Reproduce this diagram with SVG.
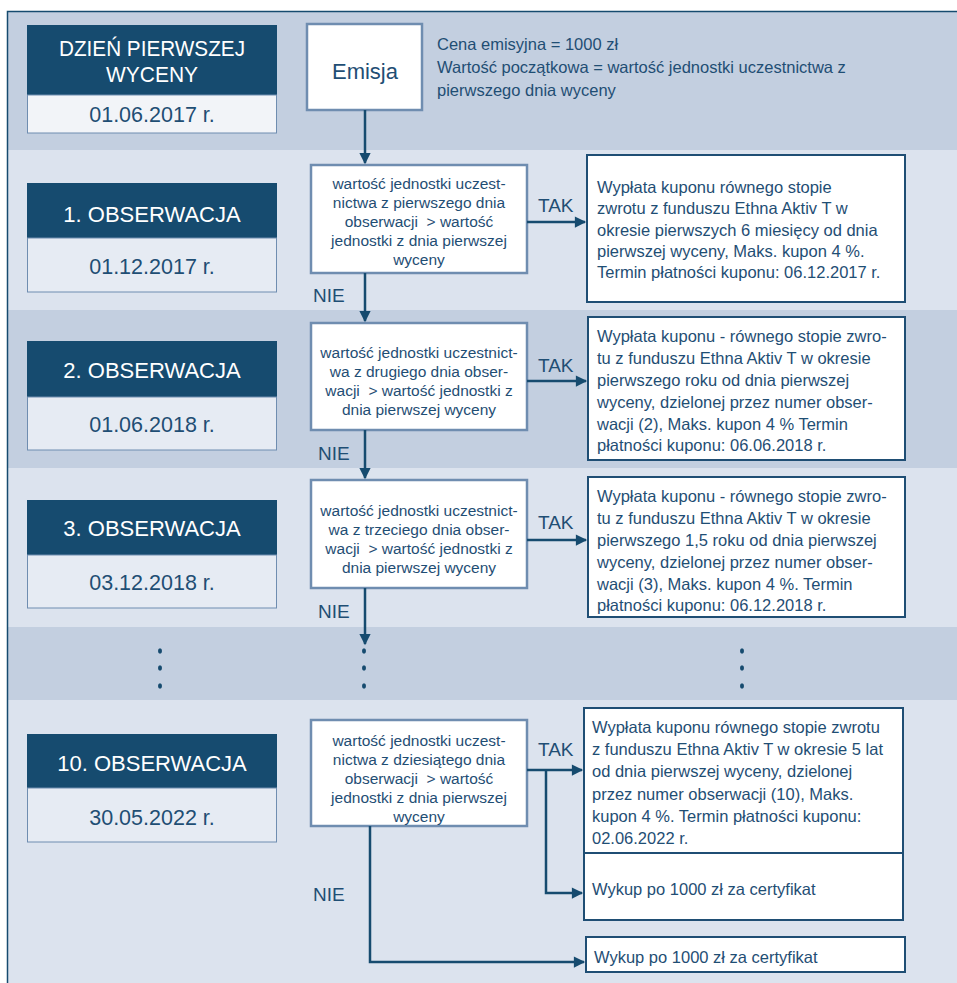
<svg xmlns="http://www.w3.org/2000/svg" width="957" height="983" viewBox="0 0 957 983">
<style>
text{font-family:"Liberation Sans","DejaVu Sans",sans-serif;fill:#1f4e74}
.hd{fill:#ffffff;font-size:22px;text-anchor:middle}
.dt{font-size:21.5px;text-anchor:middle}
.cn{font-size:15.5px;text-anchor:middle}
.rs{font-size:16.5px}
.lb{font-size:19px}
.dark{fill:#164b6f}
.band1{fill:#c3cfe0}
.band2{fill:#dce3ee}
.cond{fill:#ffffff;stroke:#6f8db0;stroke-width:2.5}
.res{fill:#ffffff;stroke:#1f4e74;stroke-width:2}
.con{fill:none;stroke:#164b6f;stroke-width:2.5}
.dot{fill:#164b6f}
</style>
<defs>
<marker id="ah" viewBox="0 0 10 10" refX="9" refY="5" markerWidth="5" markerHeight="4.5" orient="auto" markerUnits="strokeWidth">
<path d="M0,0 L10,5 L0,10 z" fill="#164b6f"/>
</marker>
</defs>
<rect x="0" y="0" width="957" height="983" fill="#ffffff"/>
<g id="bands">
<rect class="band1" x="8" y="12" width="949" height="138"/>
<rect class="band2" x="8" y="150" width="949" height="160"/>
<rect class="band1" x="8" y="310" width="949" height="158"/>
<rect class="band2" x="8" y="468" width="949" height="159"/>
<rect class="band1" x="8" y="627" width="949" height="73"/>
<rect class="band2" x="8" y="700" width="949" height="283"/>
<path d="M7.5,983 V11.5 H957" fill="none" stroke="#164b6f" stroke-width="1.5"/>
</g>
<g id="h0">
<rect class="dark" x="27" y="25" width="250" height="70"/>
<rect x="27.5" y="95" width="249" height="38" fill="#f2f4f8" stroke="#6f8db0" stroke-width="1"/>
<text class="hd" x="152" y="56" textLength="186" lengthAdjust="spacingAndGlyphs">DZIEŃ PIERWSZEJ</text>
<text class="hd" x="152" y="82" textLength="92" lengthAdjust="spacingAndGlyphs">WYCENY</text>
<text class="dt" x="152" y="122">01.06.2017 r.</text>
</g>
<g id="emisja">
<rect class="cond" x="307" y="24" width="115" height="86"/>
<text x="365" y="79" style="font-size:22px;text-anchor:middle">Emisja</text>
</g>
<g id="info">
<text class="rs" x="437" y="50">Cena emisyjna = 1000 zł</text>
<text class="rs" x="437" y="73">Wartość początkowa = wartość jednostki uczestnictwa z</text>
<text class="rs" x="437" y="96">pierwszego dnia wyceny</text>
</g>
<g id="h1">
<rect class="dark" x="27" y="183" width="250" height="55"/>
<rect x="27.5" y="238" width="249" height="54" fill="#e6ebf3" stroke="#6f8db0" stroke-width="1"/>
<text class="hd" x="152" y="222">1. OBSERWACJA</text>
<text class="dt" x="152" y="274">01.12.2017 r.</text>
</g>
<g id="c1">
<rect class="cond" x="311" y="165" width="216" height="108"/>
<text class="cn" x="419" y="189">wartość jednostki uczest-</text>
<text class="cn" x="419" y="208">nictwa z pierwszego dnia</text>
<text class="cn" x="419" y="227">obserwacji&#160; &gt; wartość</text>
<text class="cn" x="419" y="246">jednostki z dnia pierwszej</text>
<text class="cn" x="419" y="265">wyceny</text>
</g>
<g id="r1">
<rect class="res" x="587" y="155" width="318" height="147"/>
<text class="rs" x="597" y="193">Wypłata kuponu równego stopie</text>
<text class="rs" x="597" y="214">zwrotu z funduszu Ethna Aktiv T w</text>
<text class="rs" x="597" y="236">okresie pierwszych 6 miesięcy od dnia</text>
<text class="rs" x="597" y="257">pierwszej wyceny, Maks. kupon 4 %.</text>
<text class="rs" x="597" y="278">Termin płatności kuponu: 06.12.2017 r.</text>
</g>
<g id="h2">
<rect class="dark" x="27" y="341" width="250" height="56"/>
<rect x="27.5" y="397" width="249" height="53" fill="#e6ebf3" stroke="#6f8db0" stroke-width="1"/>
<text class="hd" x="152" y="378">2. OBSERWACJA</text>
<text class="dt" x="152" y="432">01.06.2018 r.</text>
</g>
<g id="c2">
<rect class="cond" x="311" y="323" width="216" height="107"/>
<text class="cn" x="419" y="358">wartość jednostki uczestnict-</text>
<text class="cn" x="419" y="377">wa z drugiego dnia obser-</text>
<text class="cn" x="419" y="396">wacji&#160; &gt; wartość jednostki z</text>
<text class="cn" x="419" y="415">dnia pierwszej wyceny</text>
</g>
<g id="r2">
<rect class="res" x="588" y="317" width="317" height="143"/>
<text class="rs" x="597" y="342">Wypłata kuponu - równego stopie zwro-</text>
<text class="rs" x="597" y="364">tu z funduszu Ethna Aktiv T w okresie</text>
<text class="rs" x="597" y="386">pierwszego roku od dnia pierwszej</text>
<text class="rs" x="597" y="408">wyceny, dzielonej przez numer obser-</text>
<text class="rs" x="597" y="430">wacji (2), Maks. kupon 4 % Termin</text>
<text class="rs" x="597" y="451">płatności kuponu: 06.06.2018 r.</text>
</g>
<g id="h3">
<rect class="dark" x="27" y="500" width="250" height="55"/>
<rect x="27.5" y="555" width="249" height="53" fill="#e6ebf3" stroke="#6f8db0" stroke-width="1"/>
<text class="hd" x="152" y="536">3. OBSERWACJA</text>
<text class="dt" x="152" y="590">03.12.2018 r.</text>
</g>
<g id="c3">
<rect class="cond" x="311" y="480" width="216" height="108"/>
<text class="cn" x="419" y="516">wartość jednostki uczestnict-</text>
<text class="cn" x="419" y="535">wa z trzeciego dnia obser-</text>
<text class="cn" x="419" y="554">wacji&#160; &gt; wartość jednostki z</text>
<text class="cn" x="419" y="573">dnia pierwszej wyceny</text>
</g>
<g id="r3">
<rect class="res" x="588" y="477" width="317" height="140"/>
<text class="rs" x="597" y="502">Wypłata kuponu - równego stopie zwro-</text>
<text class="rs" x="597" y="524">tu z funduszu Ethna Aktiv T w okresie</text>
<text class="rs" x="597" y="546">pierwszego 1,5 roku od dnia pierwszej</text>
<text class="rs" x="597" y="568">wyceny, dzielonej przez numer obser-</text>
<text class="rs" x="597" y="590">wacji (3), Maks. kupon 4 %. Termin</text>
<text class="rs" x="597" y="611">płatności kuponu: 06.12.2018 r.</text>
</g>
<g id="dots">
<ellipse class="dot" cx="160" cy="651" rx="2" ry="2.7"/>
<ellipse class="dot" cx="160" cy="668" rx="2" ry="2.7"/>
<ellipse class="dot" cx="160" cy="686" rx="2" ry="2.7"/>
<ellipse class="dot" cx="364" cy="651" rx="2" ry="2.7"/>
<ellipse class="dot" cx="364" cy="668" rx="2" ry="2.7"/>
<ellipse class="dot" cx="364" cy="686" rx="2" ry="2.7"/>
<ellipse class="dot" cx="742" cy="651" rx="2" ry="2.7"/>
<ellipse class="dot" cx="742" cy="668" rx="2" ry="2.7"/>
<ellipse class="dot" cx="742" cy="686" rx="2" ry="2.7"/>
</g>
<g id="h10">
<rect class="dark" x="27" y="734" width="250" height="54"/>
<rect x="27.5" y="788" width="249" height="54" fill="#e6ebf3" stroke="#6f8db0" stroke-width="1"/>
<text class="hd" x="152" y="771">10. OBSERWACJA</text>
<text class="dt" x="152" y="825">30.05.2022 r.</text>
</g>
<g id="c10">
<rect class="cond" x="311" y="720" width="216" height="106"/>
<text class="cn" x="419" y="746">wartość jednostki uczest-</text>
<text class="cn" x="419" y="765">nictwa z dziesiątego dnia</text>
<text class="cn" x="419" y="784">obserwacji&#160; &gt; wartość</text>
<text class="cn" x="419" y="803">jednostki z dnia pierwszej</text>
<text class="cn" x="419" y="822">wyceny</text>
</g>
<g id="r10">
<rect class="res" x="584" y="708" width="319" height="145"/>
<text class="rs" x="592" y="733">Wypłata kuponu równego stopie zwrotu</text>
<text class="rs" x="592" y="755">z funduszu Ethna Aktiv T w okresie 5 lat</text>
<text class="rs" x="592" y="777">od dnia pierwszej wyceny, dzielonej</text>
<text class="rs" x="592" y="800">przez numer obserwacji (10), Maks.</text>
<text class="rs" x="592" y="822">kupon 4 %. Termin płatności kuponu:</text>
<text class="rs" x="592" y="844">02.06.2022 r.</text>
</g>
<g id="w1">
<rect class="res" x="584" y="853" width="319" height="67"/>
<text class="rs" x="592" y="895">Wykup po 1000 zł za certyfikat</text>
</g>
<g id="w2">
<rect class="res" x="586" y="937" width="319" height="35"/>
<text class="rs" x="594" y="963">Wykup po 1000 zł za certyfikat</text>
</g>
<g id="connectors">
<path class="con" d="M365,110 V163" marker-end="url(#ah)"/>
<path class="con" d="M365,273 V321" marker-end="url(#ah)"/>
<path class="con" d="M365,430 V478" marker-end="url(#ah)"/>
<path class="con" d="M365,588 V644" marker-end="url(#ah)"/>
<path class="con" d="M527,222 H585" marker-end="url(#ah)"/>
<path class="con" d="M527,381 H586" marker-end="url(#ah)"/>
<path class="con" d="M527,540 H586" marker-end="url(#ah)"/>
<path class="con" d="M527,770 H582" marker-end="url(#ah)"/>
<path class="con" d="M546,770 V893 H582" marker-end="url(#ah)"/>
<path class="con" d="M370,826 V962 H584" marker-end="url(#ah)"/>
<text class="lb" x="538" y="212">TAK</text>
<text class="lb" x="538" y="372">TAK</text>
<text class="lb" x="538" y="529">TAK</text>
<text class="lb" x="538" y="756">TAK</text>
<text class="lb" x="313" y="302">NIE</text>
<text class="lb" x="318" y="460">NIE</text>
<text class="lb" x="318" y="618">NIE</text>
<text class="lb" x="313" y="901">NIE</text>
</g>
</svg>
